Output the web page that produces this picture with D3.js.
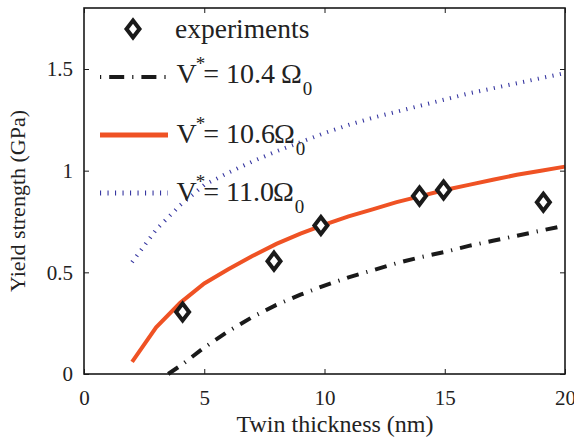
<!DOCTYPE html>
<html><head><meta charset="utf-8">
<script src="https://cdn.jsdelivr.net/npm/d3@7"></script>
</head><body style="margin:0;background:#fff"><svg id="c" width="574" height="441" style="display:block"></svg>
<script>
const xTicks = [0, 5, 10, 15, 20];
const yTicks = [0, 0.5, 1, 1.5];
const yTickLabels = ["0", "0.5", "1", "1.5"];

const expX = [4.1, 7.9, 9.85, 13.95, 14.95, 19.1];
const expY = [0.305, 0.555, 0.73, 0.875, 0.905, 0.845];

const redX = [2, 3, 4, 5, 6, 7, 8, 9, 10, 11, 12, 13, 14, 15, 16, 17, 18, 19, 20];
const redY = [0.06, 0.23, 0.35, 0.445, 0.515, 0.58, 0.64, 0.69, 0.735, 0.775, 0.81, 0.845, 0.875, 0.905, 0.93, 0.955, 0.98, 1.0, 1.02];

const blackX = [3.5, 4, 5, 6, 7, 8, 9, 10, 11, 12, 13, 14, 15, 16, 17, 18, 19, 20];
const blackY = [0.0, 0.04, 0.13, 0.21, 0.28, 0.34, 0.39, 0.435, 0.475, 0.51, 0.545, 0.575, 0.6, 0.63, 0.655, 0.68, 0.705, 0.73];

const blueX = [2, 3, 4, 5, 6, 7, 8, 9, 10, 11, 12, 13, 14, 15, 16, 17, 18, 19, 20];
const blueY = [0.55, 0.71, 0.83, 0.93, 0.99, 1.045, 1.095, 1.14, 1.185, 1.225, 1.26, 1.29, 1.32, 1.35, 1.38, 1.405, 1.43, 1.455, 1.48];

const legendMain = ["= 10.4 ", "= 10.6", "= 11.0"];
const legendSub = ["0", "0", "0"];

const FONT = '"Liberation Serif", "Times New Roman", serif';
const svg = d3.select("#c");
const L = 84, R = 565, T = 8, B = 374;
const x = d3.scaleLinear().domain([0, 20]).range([L, R]);
const y = d3.scaleLinear().domain([0, 1.8]).range([B, T]);

const RED = "#ef5224", BLK = "#1a1a1a", BLU = "#3636a0", TXT = "#222";

const line = d3.line().x(d => x(d[0])).y(d => y(d[1]));

svg.append("path").datum(d3.zip(blueX, blueY)).attr("d", line)
  .attr("fill", "none").attr("stroke", BLU).attr("stroke-width", 4).attr("stroke-dasharray", "1.1,6.4");
svg.append("path").datum(d3.zip(blackX, blackY)).attr("d", line)
  .attr("fill", "none").attr("stroke", BLK).attr("stroke-width", 4).attr("stroke-dasharray", "12,8,1.2,8");
svg.append("path").datum(d3.zip(redX, redY)).attr("d", line)
  .attr("fill", "none").attr("stroke", RED).attr("stroke-width", 4);

const diamond = "M0,-8.5L6.5,0L0,8.5L-6.5,0Z";
svg.selectAll(".exp").data(d3.zip(expX, expY)).join("path")
  .attr("d", diamond).attr("transform", d => `translate(${x(d[0])},${y(d[1])})`)
  .attr("fill", "#fff").attr("stroke", BLK).attr("stroke-width", 4);

// axes box
const ax = svg.append("g");
ax.append("g").attr("transform", `translate(0,${B})`)
  .call(d3.axisBottom(x).tickValues(xTicks).tickSize(-5).tickPadding(16).tickFormat(d3.format("d")));
ax.append("g").attr("transform", `translate(0,${T})`)
  .call(d3.axisTop(x).tickValues(xTicks).tickSize(-5).tickFormat(""));
ax.append("g").attr("transform", `translate(${L},0)`)
  .call(d3.axisLeft(y).tickValues(yTicks).tickSize(-5).tickPadding(11).tickFormat((d, i) => yTickLabels[i]));
ax.append("g").attr("transform", `translate(${R},0)`)
  .call(d3.axisRight(y).tickValues(yTicks).tickSize(-5).tickFormat(""));
ax.selectAll(".domain").remove();
ax.selectAll("line").attr("stroke", BLK).attr("stroke-width", 1);
ax.selectAll("text").attr("fill", TXT).style("font-family", FONT).style("font-size", "21px");
svg.append("rect").attr("x", L).attr("y", T).attr("width", R - L).attr("height", B - T)
  .attr("fill", "none").attr("stroke", BLK).attr("stroke-width", 1.6);

svg.append("text").attr("x", 335).attr("y", 432).attr("text-anchor", "middle")
  .attr("fill", TXT).style("font-family", FONT).style("font-size", "24px").text("Twin thickness (nm)");
svg.append("text").attr("transform", "translate(25,201) rotate(-90)").attr("text-anchor", "middle")
  .attr("fill", TXT).style("font-family", FONT).style("font-size", "22px").text("Yield strength (GPa)");

// legend
const lg = svg.append("g");
lg.append("path").attr("d", diamond).attr("transform", "translate(133,29)")
  .attr("fill", "#fff").attr("stroke", BLK).attr("stroke-width", 4);
lg.append("text").attr("x", 175).attr("y", 38).attr("fill", TXT)
  .style("font-family", FONT).style("font-size", "27.5px").text("experiments");
const rowsY = [77, 135, 193];
const baseY = [83, 143, 201];
const styles = [
  {c: BLK, w: 4, da: "1.2,8,15,8"},
  {c: RED, w: 5, da: null},
  {c: BLU, w: 5, da: "1.1,6.4"}
];
rowsY.forEach((ly, i) => {
  lg.append("line").attr("x1", 100).attr("x2", 168).attr("y1", ly).attr("y2", ly)
    .attr("stroke", styles[i].c).attr("stroke-width", styles[i].w)
    .attr("stroke-dasharray", styles[i].da);
  const t = lg.append("text").attr("x", 176.5).attr("y", baseY[i]).attr("fill", TXT)
    .style("font-family", FONT).style("font-size", "28px");
  t.append("tspan").text("V");
  t.append("tspan").style("font-size", "19px").attr("dx", -1).attr("dy", -13).text("*");
  t.append("tspan").attr("dy", 13).attr("dx", -2).text(legendMain[i]);
  t.append("tspan").attr("dx", -1).text("Ω");
  t.append("tspan").style("font-size", "19px").attr("dx", 1).attr("dy", 12).text(legendSub[i]);
});
</script></body></html>
